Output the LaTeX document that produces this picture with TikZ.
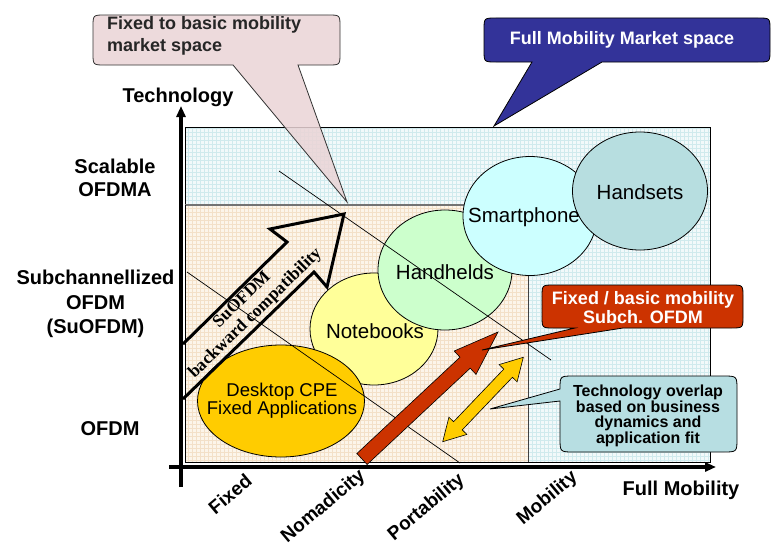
\documentclass[tikz,border=0pt]{standalone}
\usepackage{fontspec}
\setmainfont{Liberation Sans}
\newfontfamily\serifbf{Liberation Serif}
\usetikzlibrary{arrows.meta,shapes.geometric}
\definecolor{cyanbg}{RGB}{242,249,250}
\definecolor{cyangrid}{RGB}{208,234,237}
\definecolor{beigebg}{RGB}{252,245,234}
\definecolor{beigegrid}{RGB}{243,224,200}
\definecolor{deskc}{RGB}{255,204,0}
\definecolor{notec}{RGB}{255,255,153}
\definecolor{handc}{RGB}{204,255,204}
\definecolor{smartc}{RGB}{204,255,255}
\definecolor{hsetc}{RGB}{183,222,224}
\definecolor{redc}{RGB}{204,51,0}
\definecolor{bluec}{RGB}{51,51,153}
\definecolor{pinkc}{RGB}{234,212,214}
\definecolor{tealc}{RGB}{183,222,226}
\begin{document}
\lineskiplimit=-10pt
\begin{tikzpicture}[x=1pt,y=-1pt,
  ell/.style={ellipse, draw=black, line width=0.8pt, inner sep=0pt},
  etext/.style={font=\fontsize{20.5}{24}\selectfont, inner sep=0pt},
  axlbl/.style={font=\bfseries\fontsize{20}{24}\selectfont, inner sep=0pt, align=center},
  rotlbl/.style={font=\bfseries\fontsize{19}{22}\selectfont, rotate=40, inner sep=0pt},
  callout/.style={draw=black, line width=0.8pt},
  divline/.style={draw=black, line width=0.7pt},
  axisline/.style={draw=black, line width=3.2pt, -{Triangle[length=11pt,width=9pt]}}
]
\useasboundingbox (0,0) rectangle (775,551);
\fill[white] (0,0) rectangle (775,551);

% full mobility market area
\fill[cyanbg] (185,127) rectangle (710,462);
\draw[cyangrid, line width=0.25pt, step=4pt] (185,127) grid (710,462);
\draw[black, line width=0.8pt] (185,127) rectangle (710,462);

% fixed to basic mobility area
\fill[beigebg] (185,205) rectangle (528,462);
\draw[beigegrid, line width=0.25pt, step=4pt] (185,205) grid (528,462);
\draw[black!75, line width=0.8pt] (528,205) -- (528,462);
\draw[black!55, line width=2.4pt] (185,205) -- (528,205);
\draw[black, line width=0.8pt] (185,205) -- (185,462) -- (710,462);

% ellipses
\node[ell, fill=notec, minimum width=128pt, minimum height=112pt] (nb) at (374,329) {};
\node[ell, fill=handc, minimum width=134pt, minimum height=120pt] (hh) at (445,270) {};
\node[ell, fill=smartc, minimum width=134pt, minimum height=119pt] (sp) at (530,216) {};
\node[ell, fill=hsetc, minimum width=135pt, minimum height=118pt] (hs) at (640,191) {};
\node[ell, fill=deskc, minimum width=167pt, minimum height=112pt] (dt) at (281,401) {};
\node[etext] (nbt) at (375,331) {Notebooks};
\node[etext] (hht) at (445,272) {Handhelds};
\node[etext] (spt) at (524,217) {Smartphone};
\node[etext] (hst) at (640,192) {Handsets};
\node[font=\fontsize{18.5}{18}\selectfont, align=center, inner sep=0pt] (dtt) at (282,401) {Desktop CPE\\Fixed Applications};

% dividing lines
\coordinate (l1a) at (279,171); \coordinate (l1b) at (551,360);
\coordinate (l2a) at (187,272); \coordinate (l2b) at (460,463);
\draw[divline] (l1a) -- (l1b);
\draw[divline] (l2a) -- (l2b);

% SuOFDM backward compatibility arrow (outline)
\draw[line width=3pt, line join=miter] (183,344) -- (287,242) -- (270,229) -- (344,214) -- (327,287) -- (314,272) -- (183,399);
\node[rotate=44.3, align=center, inner sep=0pt, font=\serifbf\bfseries\fontsize{17.5}{19}\selectfont] (wt) at (249,307) {SuOFDM\\backward compatibility};

% red arrow
\filldraw[fill=redc, draw=black, line width=0.6pt, line join=miter]
  (356.9,453.5) -- (460,357.2) -- (454.2,351) -- (498,332) -- (476,374.4) -- (470.2,368.2) -- (367.1,464.5) -- cycle;

% yellow double arrow
\filldraw[fill=deskc, draw=black, line width=0.6pt, line join=miter]
  (523.3,357.3) -- (517.1,381.8) -- (512.4,377.3) -- (462.2,429.9) -- (466.9,434.4) -- (442.7,441.7)
  -- (448.9,417.2) -- (453.6,421.7) -- (503.8,369.1) -- (499.1,364.6) -- cycle;

% axes
\draw[axisline] (181,487) -- (181,106);
\draw[axisline] (169,467) -- (716,467);
\node[axlbl] (ytitle) at (178,97) {Technology};
\node[axlbl] (xtitle) at (681,490) {Full Mobility};
\node[axlbl, font=\bfseries\fontsize{20}{23}\selectfont] (sofdma) at (115,178) {Scalable\\OFDMA};
\node[axlbl, font=\bfseries\fontsize{20}{24.5}\selectfont] (subofdm) at (95.5,304) {Subchannellized\\OFDM\\(SuOFDM)};
\node[axlbl] (ofdm) at (110,429) {OFDM};
\node[rotlbl] (fixedl) at (230,494) {Fixed};
\node[rotlbl] (nomadl) at (323.5,506.5) {Nomadicity};
\node[rotlbl] (portl) at (426.5,507.5) {Portability};
\node[rotlbl] (mobl) at (547.5,498.5) {Mobility};

% callout: fixed to basic mobility market space
\filldraw[callout, fill=pinkc, fill opacity=0.85, draw=black!80]
  (105,15) -- (328,15) .. controls (340,15) .. (340,27) -- (340,53) .. controls (340,65) .. (328,65)
  -- (298,65) -- (347,202) -- (233,65) -- (105,65) .. controls (93,65) .. (93,53)
  -- (93,27) .. controls (93,15) .. (105,15) -- cycle;
\node[anchor=west, align=left, inner sep=0pt, text=black!85, font=\bfseries\fontsize{18}{22}\selectfont] (pinkt) at (107,36) {Fixed to basic mobility\\market space};

% callout: full mobility market space
\filldraw[callout, fill=bluec]
  (496,18) -- (758,18) .. controls (770,18) .. (770,30) -- (770,50) .. controls (770,62) .. (758,62)
  -- (602,62) -- (494,126) -- (532,62) -- (496,62) .. controls (484,62) .. (484,50)
  -- (484,30) .. controls (484,18) .. (496,18) -- cycle;
\node[text=white, inner sep=0pt, font=\bfseries\fontsize{18}{22}\selectfont] (bluet) at (622,40) {Full Mobility Market space};

% callout: fixed / basic mobility subch. OFDM
\filldraw[callout, fill=redc]
  (554,285) -- (731,285) .. controls (743,285) .. (743,297) -- (743,316) .. controls (743,328) .. (731,328)
  -- (623,328) -- (482,350) -- (575,328) -- (554,328) .. controls (542,328) .. (542,316)
  -- (542,297) .. controls (542,285) .. (554,285) -- cycle;
\node[text=white, align=center, inner sep=0pt, font=\bfseries\fontsize{18}{19}\selectfont] (redt) at (643,307.5) {Fixed / basic mobility\\Subch. OFDM};

% callout: technology overlap
\filldraw[callout, fill=tealc]
  (574,376) -- (723,376) .. controls (737,376) .. (737,390) -- (737,438) .. controls (737,452) .. (723,452)
  -- (574,452) .. controls (560,452) .. (560,438) -- (560,401) -- (490,409) -- (560,389)
  .. controls (560,376) .. (574,376) -- cycle;
\node[align=center, inner sep=0pt, font=\bfseries\fontsize{16}{15.5}\selectfont] (tealt) at (648,416) {Technology overlap\\based on business\\dynamics and\\application fit};
\end{tikzpicture}
\end{document}
